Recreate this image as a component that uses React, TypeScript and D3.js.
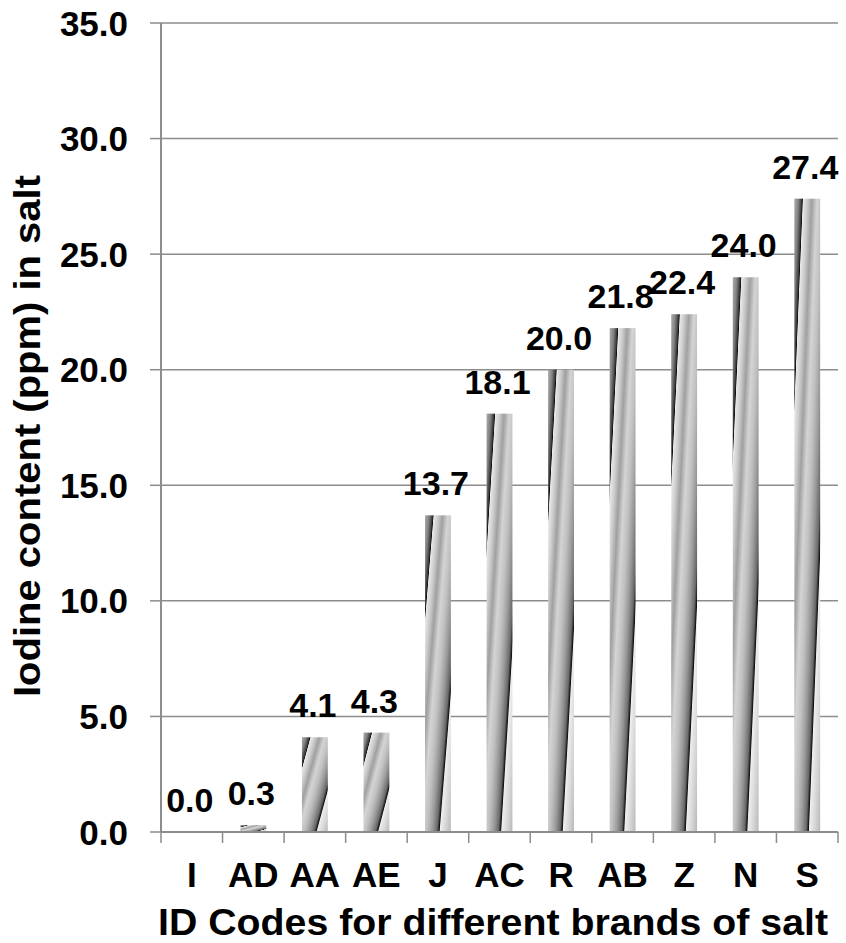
import React from "react";
import * as d3 from "d3";

const categories = ["I", "AD", "AA", "AE", "J", "AC", "R", "AB", "Z", "N", "S"];
const values = [0.0, 0.3, 4.1, 4.3, 13.7, 18.1, 20.0, 21.8, 22.4, 24.0, 27.4];
const yTicks = [0, 5, 10, 15, 20, 25, 30, 35];
const xTitle = "ID Codes for different brands of salt";
const yTitle = "Iodine content (ppm) in salt";

const W = 846;
const H = 943;
const left = 161;
const right = 838;
const top = 23;
const bottom = 832;
const FONT = "'Liberation Sans', Arial, Helvetica, sans-serif";

const stops: [number, string][] = [
  [0, "#acacac"],
  [0.08, "#828282"],
  [0.145, "#363636"],
  [0.158, "#0e0e0e"],
  [0.172, "#e8e8e8"],
  [0.25, "#cccccc"],
  [0.34, "#a0a0a0"],
  [0.44, "#d4d4d4"],
  [0.54, "#c0c0c0"],
  [0.64, "#9a9a9a"],
  [0.73, "#686868"],
  [0.772, "#121212"],
  [0.79, "#eeeeee"],
  [0.9, "#d4d4d4"],
  [1, "#b8b8b8"],
];

export default function App() {
  const x = d3.scaleBand<string>().domain(categories).range([left, right]).paddingInner(0).paddingOuter(0);
  const y = d3.scaleLinear().domain([0, 35]).range([bottom, top]);
  const bw = x.bandwidth() * 0.42;
  const gridColor = "#8c8c8c";

  return (
    <svg width={W} height={H} style={{ position: "absolute", left: 0, top: 0, background: "#fff" }}>
      <defs>
        <linearGradient id="barGrad" x1="0" y1="0" x2="1" y2="1" gradientUnits="objectBoundingBox">
          {stops.map(([o, c], i) => (
            <stop key={i} offset={o} stopColor={c} />
          ))}
        </linearGradient>
      </defs>
      <rect x={0} y={0} width={W} height={H} fill="#fff" />
      {yTicks.filter((t) => t > 0).map((t) => (
        <line key={"g" + t} x1={left} x2={right} y1={y(t)} y2={y(t)} stroke={gridColor} strokeWidth={1.5} />
      ))}
      <line x1={left} x2={left} y1={top} y2={bottom} stroke={gridColor} strokeWidth={2} />
      {yTicks.map((t) => (
        <g key={"yt" + t}>
          <line x1={left - 11} x2={left} y1={y(t)} y2={y(t)} stroke={gridColor} strokeWidth={1.5} />
          <text
            x={128}
            y={y(t)}
            dy="0.36em"
            textAnchor="end"
            fontFamily={FONT}
            fontWeight="bold"
            fontSize={35}
            fill="#000"
          >
            {t.toFixed(1)}
          </text>
        </g>
      ))}
      {categories.map((c, i) => {
        const cx = (x(c) as number) + x.bandwidth() / 2;
        const h = bottom - y(values[i]);
        return h > 0 ? (
          <rect key={"b" + c} x={cx - bw / 2} y={y(values[i])} width={bw} height={h} fill="url(#barGrad)" />
        ) : null;
      })}
      <line x1={left} x2={right} y1={bottom} y2={bottom} stroke={gridColor} strokeWidth={2} />
      {categories.map((c) => (
        <line
          key={"xt" + c}
          x1={x(c) as number}
          x2={x(c) as number}
          y1={bottom}
          y2={bottom + 11}
          stroke={gridColor}
          strokeWidth={1.5}
        />
      ))}
      <line x1={right} x2={right} y1={bottom} y2={bottom + 11} stroke={gridColor} strokeWidth={1.5} />
      {categories.map((c) => (
        <text
          key={"xl" + c}
          x={(x(c) as number) + x.bandwidth() / 2}
          y={887}
          textAnchor="middle"
          fontFamily={FONT}
          fontWeight="bold"
          fontSize={35}
          fill="#000"
        >
          {c}
        </text>
      ))}
      {categories.map((c, i) => (
        <text
          key={"v" + c}
          x={(x(c) as number) + x.bandwidth() / 2 - 2}
          y={y(values[i]) - 20}
          textAnchor="middle"
          fontFamily={FONT}
          fontWeight="bold"
          fontSize={34}
          fill="#000"
        >
          {values[i].toFixed(1)}
        </text>
      ))}
      <text
        x={493}
        y={935}
        textAnchor="middle"
        fontFamily={FONT}
        fontWeight="bold"
        fontSize={36}
        textLength={670}
        lengthAdjust="spacingAndGlyphs"
        fill="#000"
      >
        {xTitle}
      </text>
      <text
        transform={`translate(40,436) rotate(-90)`}
        textAnchor="middle"
        fontFamily={FONT}
        fontWeight="bold"
        fontSize={36}
        textLength={522}
        lengthAdjust="spacingAndGlyphs"
        fill="#000"
      >
        {yTitle}
      </text>
    </svg>
  );
}
